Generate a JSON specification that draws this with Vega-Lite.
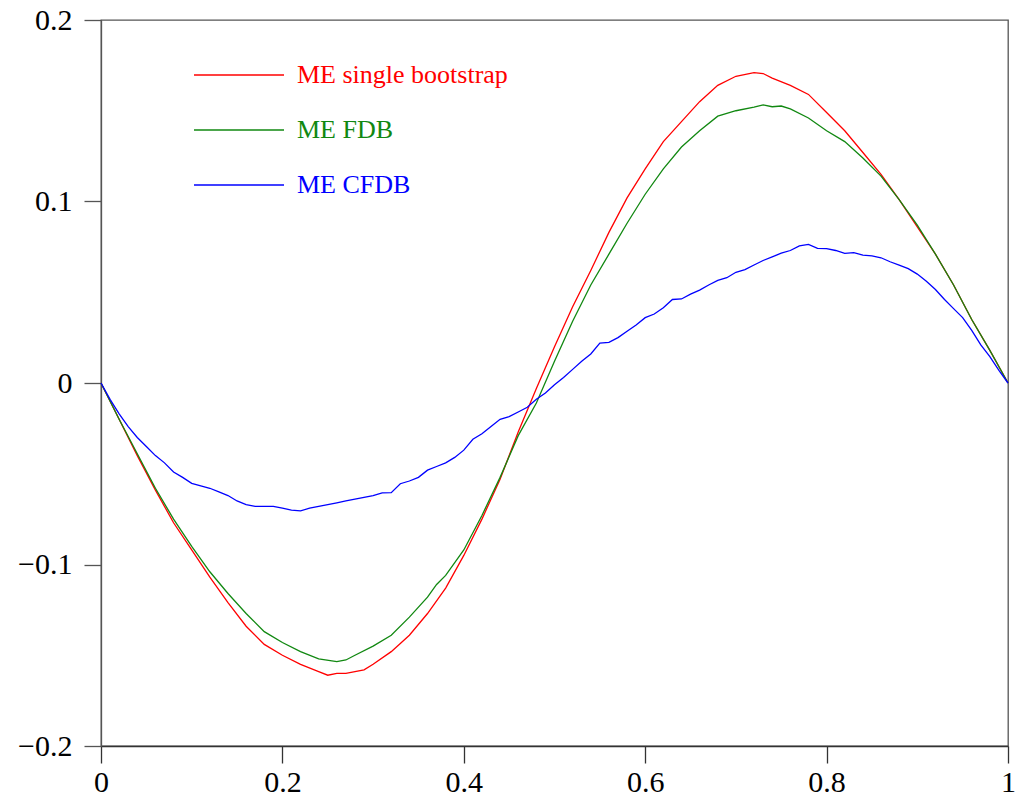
{
  "$schema": "https://vega.github.io/schema/vega-lite/v6.json",
  "width": 907,
  "height": 726,
  "autosize": {"type": "none"},
  "padding": {"left": 101, "top": 20, "right": 8, "bottom": 54},
  "background": "white",
  "config": {
    "view": {"stroke": "#555555", "strokeWidth": 1.3},
    "font": "Liberation Serif"
  },
  "datasets": {
    "red": [[0,0],[0.02,-0.020],[0.04,-0.040],[0.06,-0.059],[0.08,-0.077],[0.10,-0.092],[0.12,-0.107],[0.14,-0.121],[0.16,-0.134],[0.18,-0.144],[0.20,-0.150],[0.22,-0.155],[0.24,-0.159],[0.25,-0.161],[0.26,-0.160],[0.27,-0.160],[0.28,-0.159],[0.29,-0.158],[0.30,-0.155],[0.32,-0.148],[0.34,-0.139],[0.36,-0.127],[0.38,-0.113],[0.40,-0.095],[0.42,-0.075],[0.44,-0.053],[0.46,-0.027],[0.48,-0.003],[0.50,0.020],[0.52,0.042],[0.54,0.062],[0.56,0.083],[0.58,0.102],[0.60,0.118],[0.62,0.133],[0.64,0.144],[0.66,0.155],[0.68,0.164],[0.70,0.169],[0.72,0.171],[0.73,0.1705],[0.74,0.168],[0.76,0.164],[0.78,0.159],[0.80,0.149],[0.82,0.139],[0.84,0.127],[0.86,0.115],[0.88,0.101],[0.90,0.086],[0.92,0.071],[0.94,0.054],[0.96,0.035],[0.98,0.018],[1.00,0]],
    "green": [[0,0],[0.02,-0.020],[0.04,-0.039],[0.06,-0.058],[0.08,-0.075],[0.10,-0.090],[0.12,-0.104],[0.14,-0.116],[0.16,-0.127],[0.18,-0.137],[0.20,-0.143],[0.22,-0.148],[0.24,-0.152],[0.26,-0.1535],[0.27,-0.1526],[0.28,-0.150],[0.30,-0.145],[0.32,-0.139],[0.34,-0.129],[0.36,-0.118],[0.37,-0.111],[0.38,-0.106],[0.40,-0.092],[0.42,-0.073],[0.44,-0.052],[0.46,-0.029],[0.48,-0.011],[0.50,0.012],[0.52,0.034],[0.54,0.054],[0.56,0.071],[0.58,0.088],[0.60,0.104],[0.62,0.118],[0.64,0.130],[0.66,0.139],[0.68,0.147],[0.70,0.150],[0.72,0.152],[0.73,0.1532],[0.74,0.1522],[0.75,0.1526],[0.76,0.151],[0.78,0.146],[0.80,0.139],[0.82,0.133],[0.84,0.124],[0.86,0.114],[0.88,0.101],[0.90,0.087],[0.92,0.071],[0.94,0.054],[0.96,0.035],[0.98,0.018],[1.00,0]],
    "blue": [[0,0],[0.01,-0.009],[0.02,-0.017],[0.03,-0.024],[0.04,-0.030],[0.05,-0.035],[0.06,-0.040],[0.07,-0.044],[0.08,-0.049],[0.09,-0.052],[0.10,-0.0553],[0.11,-0.0567],[0.12,-0.058],[0.13,-0.060],[0.14,-0.062],[0.15,-0.065],[0.16,-0.067],[0.17,-0.068],[0.18,-0.068],[0.19,-0.068],[0.20,-0.069],[0.21,-0.070],[0.22,-0.0705],[0.23,-0.069],[0.24,-0.068],[0.25,-0.067],[0.26,-0.066],[0.27,-0.065],[0.28,-0.064],[0.29,-0.063],[0.30,-0.062],[0.31,-0.0605],[0.32,-0.0604],[0.33,-0.0555],[0.34,-0.054],[0.35,-0.052],[0.36,-0.048],[0.37,-0.046],[0.38,-0.044],[0.39,-0.041],[0.40,-0.037],[0.41,-0.031],[0.42,-0.028],[0.43,-0.024],[0.44,-0.020],[0.45,-0.0185],[0.46,-0.016],[0.47,-0.0134],[0.48,-0.009],[0.49,-0.0055],[0.50,-0.001],[0.51,0.003],[0.52,0.0075],[0.53,0.012],[0.54,0.016],[0.55,0.022],[0.56,0.0224],[0.57,0.025],[0.58,0.0285],[0.59,0.032],[0.60,0.036],[0.61,0.038],[0.62,0.0415],[0.63,0.046],[0.64,0.0463],[0.65,0.049],[0.66,0.0512],[0.67,0.054],[0.68,0.0565],[0.69,0.058],[0.70,0.061],[0.71,0.0625],[0.72,0.065],[0.73,0.0675],[0.74,0.0695],[0.75,0.0715],[0.76,0.073],[0.77,0.0755],[0.78,0.0764],[0.79,0.0742],[0.80,0.074],[0.81,0.073],[0.82,0.0714],[0.83,0.0718],[0.84,0.0705],[0.85,0.070],[0.86,0.069],[0.87,0.0668],[0.88,0.065],[0.89,0.063],[0.90,0.060],[0.91,0.056],[0.92,0.0515],[0.93,0.046],[0.94,0.041],[0.95,0.036],[0.96,0.029],[0.97,0.021],[0.98,0.0145],[0.99,0.007],[1.00,0]]
  },
  "layer": [
    {
      "data": {"name": "red"},
      "transform": [{"calculate": "datum[0]", "as": "x"}, {"calculate": "datum[1]", "as": "y"}, {"calculate": "'ME single bootstrap'", "as": "series"}],
      "mark": {"type": "line", "strokeWidth": 1.3},
      "encoding": {
        "x": {"field": "x", "type": "quantitative"},
        "y": {"field": "y", "type": "quantitative"},
        "color": {"field": "series", "type": "nominal"}
      }
    },
    {
      "data": {"name": "green"},
      "transform": [{"calculate": "datum[0]", "as": "x"}, {"calculate": "datum[1]", "as": "y"}, {"calculate": "'ME FDB'", "as": "series"}],
      "mark": {"type": "line", "strokeWidth": 1.3},
      "encoding": {
        "x": {"field": "x", "type": "quantitative"},
        "y": {"field": "y", "type": "quantitative"},
        "color": {"field": "series", "type": "nominal"}
      }
    },
    {
      "data": {"name": "blue"},
      "transform": [{"calculate": "datum[0]", "as": "x"}, {"calculate": "datum[1]", "as": "y"}, {"calculate": "'ME CFDB'", "as": "series"}],
      "mark": {"type": "line", "strokeWidth": 1.3},
      "encoding": {
        "x": {
          "field": "x", "type": "quantitative",
          "scale": {"domain": [0, 1], "nice": false, "zero": false},
          "axis": {"title": null, "values": [0, 0.2, 0.4, 0.6, 0.8, 1], "format": ".1~f", "grid": false, "tickSize": 17, "tickColor": "#333333", "domainColor": "#333333", "domainWidth": 1.3, "tickWidth": 1.3, "labelFontSize": 30, "labelColor": "#000000", "labelPadding": 4, "labelFont": "Liberation Serif", "labelFlush": false}
        },
        "y": {
          "field": "y", "type": "quantitative",
          "scale": {"domain": [-0.2, 0.2], "nice": false, "zero": false},
          "axis": {"title": null, "values": [-0.2, -0.1, 0, 0.1, 0.2], "format": ".1~f", "grid": false, "tickSize": 17, "tickColor": "#555555", "domainColor": "#555555", "domainWidth": 1.3, "tickWidth": 1.3, "labelFontSize": 30, "labelColor": "#000000", "labelPadding": 12, "labelFont": "Liberation Serif", "labelFlush": false}
        },
        "color": {
          "field": "series", "type": "nominal",
          "scale": {"domain": ["ME single bootstrap", "ME FDB", "ME CFDB"], "range": ["#ff0000", "#118811", "#0000ff"]},
          "legend": {
            "title": null, "orient": "none", "legendX": 92, "legendY": 40,
            "symbolType": "stroke", "symbolSize": 8100, "symbolStrokeWidth": 1.3,
            "labelFontSize": 26, "labelFont": "Liberation Serif", "labelOffset": 12, "labelLimit": 500,
            "clipHeight": 30, "rowPadding": 25, "padding": 0,
            "encode": {"labels": {"update": {"fill": {"scale": "color", "field": "value"}}}}
          }
        }
      }
    }
  ]
}
